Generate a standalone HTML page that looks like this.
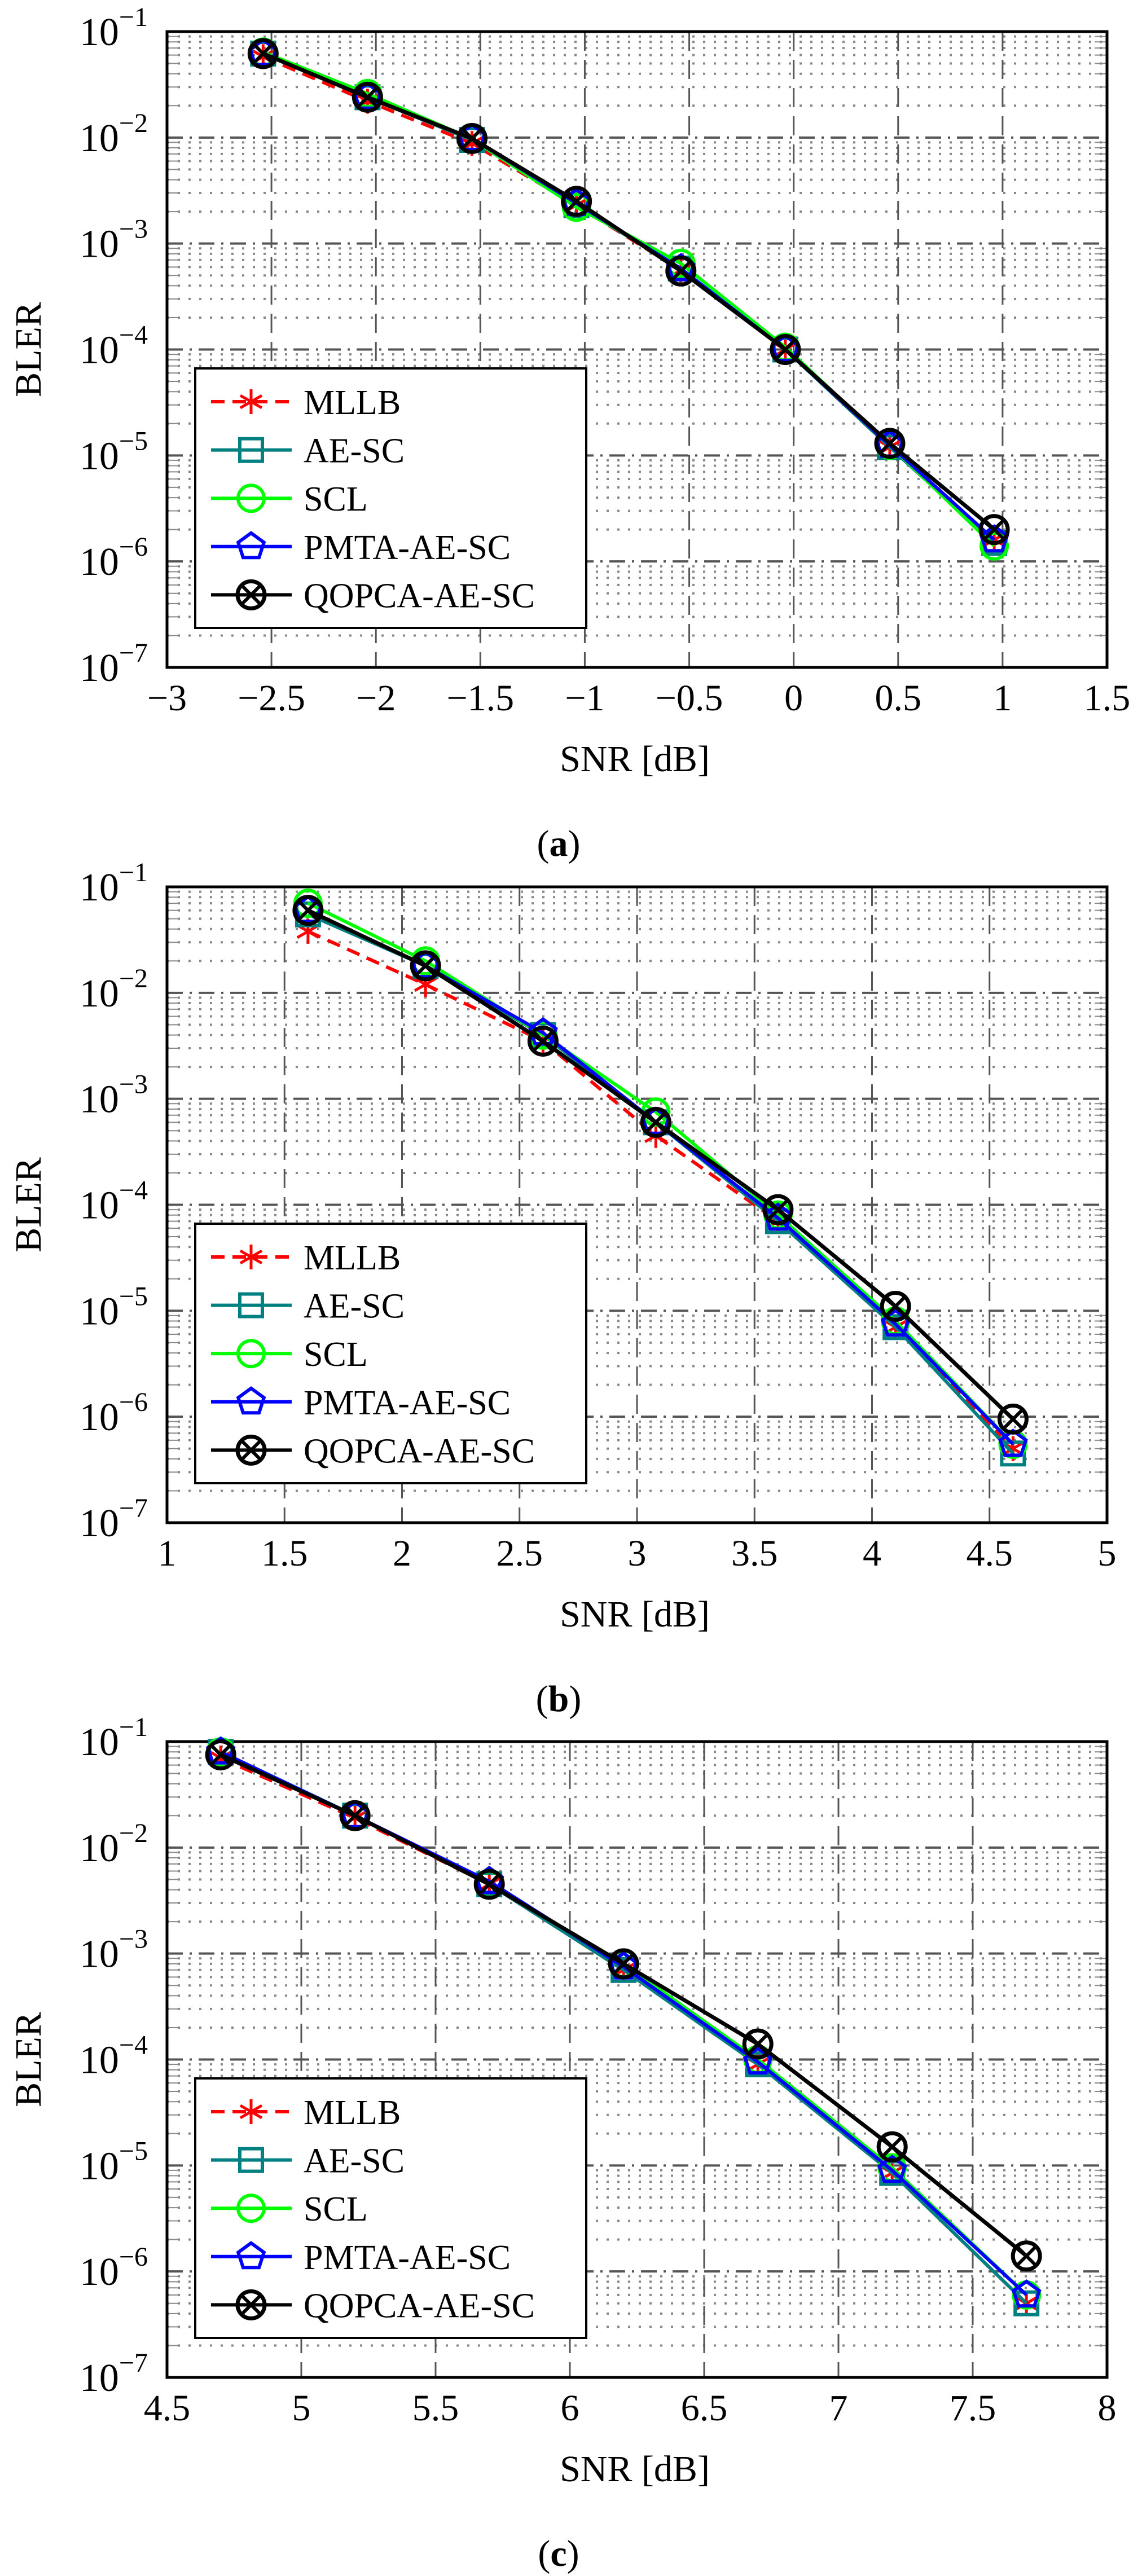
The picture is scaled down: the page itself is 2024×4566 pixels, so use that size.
<!DOCTYPE html>
<html><head><meta charset="utf-8"><style>
html,body{margin:0;padding:0;background:#fff;}
svg{display:block;font-family:"Liberation Serif",serif;}
</style></head><body>
<svg id="fig" width="2024" height="4566" viewBox="0 0 2024 4566" xmlns="http://www.w3.org/2000/svg"></svg>
<script>
// ---- data ----
const seriesNames = ["MLLB","AE-SC","SCL","PMTA-AE-SC","QOPCA-AE-SC"];
const xA = [-2.54,-2.04,-1.54,-1.04,-0.54,-0.04,0.46,0.96];
const xB = [1.6,2.1,2.6,3.08,3.6,4.1,4.6];
const xC = [4.7,5.2,5.7,6.2,6.7,7.2,7.7];
const aMLLB = [0.058,0.022,0.0088,0.0023,0.00056,1.0e-4,1.2e-5,1.6e-6];
const aAESC = [0.062,0.024,0.0095,0.0023,0.00058,1.0e-4,1.2e-5,1.5e-6];
const aSCL  = [0.064,0.026,0.0097,0.0022,0.00065,1.05e-4,1.25e-5,1.4e-6];
const aPMTA = [0.062,0.024,0.0098,0.0024,0.00058,1.0e-4,1.25e-5,1.6e-6];
const aQOPCA= [0.062,0.024,0.0098,0.0025,0.00055,1.0e-4,1.3e-5,2.0e-6];
const bMLLB = [0.038,0.012,0.0035,0.00045,7e-5,7e-6,5e-7];
const bAESC = [0.055,0.018,0.004,0.0006,7e-5,7e-6,4.5e-7];
const bSCL  = [0.07,0.02,0.004,0.00075,8e-5,8e-6,5.5e-7];
const bPMTA = [0.06,0.018,0.0042,0.0006,7.5e-5,7.5e-6,5.5e-7];
const bQOPCA= [0.06,0.018,0.0035,0.0006,9e-5,1.1e-5,9.5e-7];
const cMLLB = [0.07,0.019,0.0045,0.0007,9e-5,8.5e-6,5e-7];
const cAESC = [0.08,0.02,0.0045,0.0007,9e-5,8.5e-6,5e-7];
const cSCL  = [0.08,0.02,0.0045,0.0008,1e-4,9.5e-6,6e-7];
const cPMTA = [0.08,0.02,0.0048,0.00075,9.5e-5,9e-6,6e-7];
const cQOPCA= [0.075,0.02,0.0045,0.0008,1.4e-4,1.5e-5,1.4e-6];
const xTicksA = [-3,-2.5,-2,-1.5,-1,-0.5,0,0.5,1,1.5];
const xTicksB = [1,1.5,2,2.5,3,3.5,4,4.5,5];
const xTicksC = [4.5,5,5.5,6,6.5,7,7.5,8];
const yExps = [-1,-2,-3,-4,-5,-6,-7];
const captions = ["a","b","c"];

const NS="http://www.w3.org/2000/svg";
const svg=document.getElementById('fig');
function mk(tag,attrs,parent){const e=document.createElementNS(NS,tag);for(const k in attrs)e.setAttribute(k,attrs[k]);(parent||svg).appendChild(e);return e;}
function fmt(v){return (v<0?"\u2212":"")+String(Math.abs(v));}

const colors=["#ff0000","#008080","#00ff00","#0000ff","#000000"];
const L=296,R=1962,H=1127;

function marker(g,k,x,y){
  const c=colors[k];
  if(k===0){
    const s=22;
    for(let a=0;a<3;a++){const t=a*Math.PI/3+Math.PI/2;mk('line',{x1:x-s*Math.cos(t),y1:y-s*Math.sin(t),x2:x+s*Math.cos(t),y2:y+s*Math.sin(t),stroke:c,'stroke-width':5},g);}
  } else if(k===1){
    mk('rect',{x:x-20,y:y-20,width:40,height:40,fill:'none',stroke:c,'stroke-width':6},g);
  } else if(k===2){
    mk('circle',{cx:x,cy:y,r:23,fill:'none',stroke:c,'stroke-width':6},g);
  } else if(k===3){
    let p=[];for(let i=0;i<5;i++){const t=-Math.PI/2+i*2*Math.PI/5;p.push((x+24*Math.cos(t)).toFixed(1)+','+(y+24*Math.sin(t)).toFixed(1));}
    mk('polygon',{points:p.join(' '),fill:'none',stroke:c,'stroke-width':6},g);
  } else {
    mk('circle',{cx:x,cy:y,r:24,fill:'none',stroke:c,'stroke-width':7},g);
    const d=16;
    mk('line',{x1:x-d,y1:y-d,x2:x+d,y2:y+d,stroke:c,'stroke-width':6},g);
    mk('line',{x1:x-d,y1:y+d,x2:x+d,y2:y-d,stroke:c,'stroke-width':6},g);
  }
}

function plot(idx,T,xs,ticks,data){
  const B=T+H;
  const x0=ticks[0],x1=ticks[ticks.length-1];
  const X=v=>L+(v-x0)/(x1-x0)*(R-L);
  const Y=v=>T+(-1-Math.log10(v))/6*H;
  const g=mk('g',{});
  
  
  for(let e=-7;e<-1;e++){for(let m=2;m<=9;m++){const y=Y(m*Math.pow(10,e));
    mk('line',{x1:L,y1:y,x2:R,y2:y,stroke:'#888','stroke-width':4,'stroke-dasharray':'4 15'},g);
    mk('line',{x1:L,y1:y,x2:L+22,y2:y,stroke:'#888','stroke-width':2},g);
    mk('line',{x1:R,y1:y,x2:R-22,y2:y,stroke:'#888','stroke-width':2},g);}}
  yExps.forEach(e=>{const y=Y(Math.pow(10,e));
    if(e>-7&&e<-1) mk('line',{x1:L,y1:y,x2:R,y2:y,stroke:'#555','stroke-width':4,'stroke-dasharray':'28 12 4 12'},g);
    const t=mk('text',{x:262,y:y+24,'font-size':70,'text-anchor':'end',fill:'#000'},g);
    
    
    t.textContent='10';
    const s=mk('tspan',{dy:-34,'font-size':48},t);s.textContent='\u2212'+Math.abs(e);
  });
  ticks.forEach((v,i)=>{const x=X(v);
    if(i>0&&i<ticks.length-1){
      mk('line',{x1:x,y1:T,x2:x,y2:B,stroke:'#555','stroke-width':3,'stroke-dasharray':'34 16'},g);
      mk('line',{x1:x,y1:B,x2:x,y2:B-24,stroke:'#555','stroke-width':2},g);
      mk('line',{x1:x,y1:T,x2:x,y2:T+24,stroke:'#555','stroke-width':2},g);}
    const t=mk('text',{x:x,y:B+76,'font-size':66,'text-anchor':'middle',fill:'#000'},g);
    
    
    t.textContent=fmt(v);
  });
  const ax=mk('rect',{x:L,y:T,width:R-L,height:H,fill:'none',stroke:'#000','stroke-width':5},g);
  
  
  data.forEach((ys,k)=>{
    const sg=mk('g',{},g);
    
    
    const pts=xs.map((x,i)=>X(x).toFixed(1)+','+Y(ys[i]).toFixed(1)).join(' ');
    const a={points:pts,fill:'none',stroke:colors[k],'stroke-width':k===4?7:6,'stroke-linejoin':'round'};
    if(k===0)a['stroke-dasharray']='24 14';
    mk('polyline',a,sg);
    xs.forEach((x,i)=>marker(sg,k,X(x),Y(ys[i])));
  });
  const lg=mk('g',{},g);
  
  
  const lt=T+597;
  mk('rect',{x:346,y:lt,width:693,height:460,fill:'#fff',stroke:'#000','stroke-width':4},lg);
  seriesNames.forEach((n,k)=>{
    const y=lt+59+k*85.6;
    const eg=mk('g',{},lg);
    
    
    const a={x1:374,y1:y,x2:517,y2:y,stroke:colors[k],'stroke-width':6};
    if(k===0)a['stroke-dasharray']='24 14';
    mk('line',a,eg);
    marker(eg,k,445,y);
    const t=mk('text',{x:538,y:y+22,'font-size':62,fill:'#000'},eg);
    t.textContent=n;
  });
  const xl=mk('text',{x:1125,y:B+184,'font-size':66,'text-anchor':'middle',fill:'#000'},g);
  
  
  xl.textContent='SNR [dB]';
  const yl=mk('text',{x:0,y:0,'font-size':66,'text-anchor':'middle',fill:'#000',transform:'translate(72,'+(T+H/2)+') rotate(-90)'},g);
  
  
  yl.textContent='BLER';
  const cp=mk('text',{x:990,y:B+334,'font-size':66,'text-anchor':'middle',fill:'#000'},g);
  
  
  cp.textContent='(';
  const bt=mk('tspan',{'font-weight':'bold'},cp);bt.textContent=captions[idx];
  const ct=mk('tspan',{},cp);ct.textContent=')';
}
plot(0,56,xA,xTicksA,[aMLLB,aAESC,aSCL,aPMTA,aQOPCA]);
plot(1,1572,xB,xTicksB,[bMLLB,bAESC,bSCL,bPMTA,bQOPCA]);
plot(2,3087,xC,xTicksC,[cMLLB,cAESC,cSCL,cPMTA,cQOPCA]);
</script>
</body></html>
